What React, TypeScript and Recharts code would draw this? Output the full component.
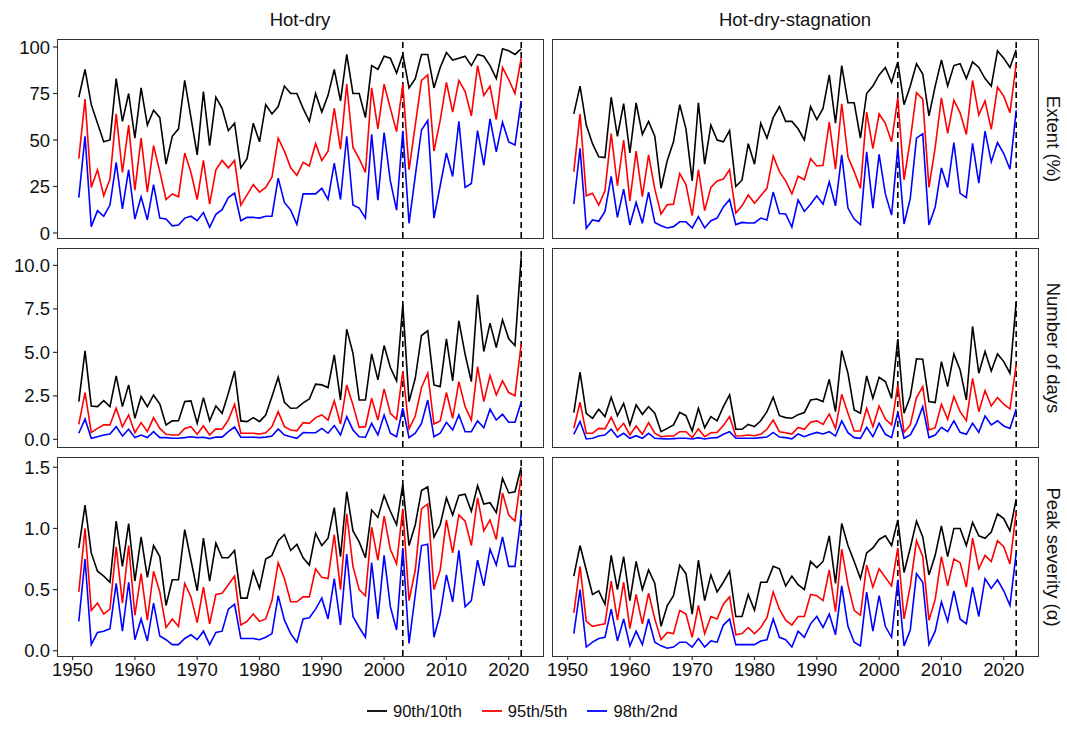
import React from 'react';
import { LineChart, Line, XAxis, YAxis, ReferenceLine } from 'recharts';

const YEARS = [1951,1952,1953,1954,1955,1956,1957,1958,1959,1960,1961,1962,1963,1964,1965,1966,1967,1968,1969,1970,1971,1972,1973,1974,1975,1976,1977,1978,1979,1980,1981,1982,1983,1984,1985,1986,1987,1988,1989,1990,1991,1992,1993,1994,1995,1996,1997,1998,1999,2000,2001,2002,2003,2004,2005,2006,2007,2008,2009,2010,2011,2012,2013,2014,2015,2016,2017,2018,2019,2020,2021,2022];

// Hot-dry, Extent (%)
const hdExt90 = [73,88,69,59,49,50,83,60,75,51,78,58,66,62,37,52,56,82,62,42,76,47,73,67,55,59,35,40,59,49,69,64,68,79,75,75,67,60,75,65,74,88,71,96,75,75,62,90,88,95,94,86,96,78,83,96,96,78,89,97,93,94,95,90,96,95,90,83,99,98,96,99];
const hdExt95 = [40,72,24.5,34,20,29,64,32.5,58,23,51,22,47,33,18,21,19.5,43,32.5,18,39,15.5,34,39,35,39,15,20.5,26,22,24.5,30,51,44,35,31,38,36,48,39,44,67,45,80,46,40,32.5,78,56,80,67,54.5,80,34,58,82,85,44,60.5,81,65,82,76,63,90,74,79,61,89,82.5,75,94];
const hdExt98 = [19,52,3.4,12,9,15,38,13,34,7.5,19.5,7,26,8,7.5,3.8,4.3,8,9,6.6,11,3,10,12.5,19,21.4,6.6,8.4,8.4,8,9,9,29.5,16.4,12.3,4.6,21,21,21,24,18,37.5,18,52,15,13.4,8,53,17.7,54,28,12.3,55,5.2,30.7,55.4,60.5,8,25.4,43,30.4,60,24.5,26.6,55,36.4,61.4,43.6,59.6,49,47.3,71];

// Hot-dry-stagnation, Extent (%)
const hdsExt90 = [64,79,58,48,41,40.5,73,52,69.5,43,70,53,60,52,24,39,49,69,56,28,70,37,58,50,49,55,25,28.5,48,37,59,51,62,68,60,60,56,50,68,61,67,85,59,90,70,70,51,75,79,85,89,81,92,69,79,91,85.5,63,79,93,79,90,91,83,92,89,83,79,98,94,89,98.5];
const hdsExt95 = [33,64,20,21.4,15,22.7,53.4,25.4,50,17.3,44,19.5,42,23.6,10.2,15.2,15.5,32,26,9.3,34,12,24.5,28,29,34,10.7,14.6,20.4,16,20,24,41.4,33,28,21,30.5,28.6,40,36,36.4,59.6,34.3,69.5,41,33,24,65,45.4,64,59,49,72.7,28.6,50,75.4,72,24.5,46,72.7,53.6,71.4,64.6,53,82,63.4,71,55.7,78.4,73.6,64.6,91];
const hdsExt98 = [15.5,45.5,2.5,7,6.3,11.6,30.4,8.4,23.6,4.3,16.4,5.2,22,5.7,3.9,2.7,3.4,6,6,2.7,8.8,2.7,6.6,8,14,18,4.5,5.7,5.4,5.4,8,7,22,10.5,10.2,3.2,17.8,11.6,15.5,20,15.5,27.5,14.6,42,13.4,7.5,4.5,43.6,13.4,42.3,21,9.6,46,4.8,18.6,51,53.4,4.3,14,35,24.5,48.6,21.3,19,48.2,26.8,54.8,38.2,48.6,42.7,34.3,66];

// Hot-dry, Number of days
const hdDays90 = [2.17,5.09,1.92,1.88,2.23,1.88,3.65,1.88,3.13,1.21,2.46,1.88,2.55,2.03,0.83,1.06,1.07,2.17,2.21,0.92,2.4,1.07,1.92,1.5,2.65,3.93,1.06,1.02,1.25,1.02,1.4,2.46,3.57,2.13,1.79,1.8,2.1,2.32,3.17,3.13,2.98,4.86,2.26,6.33,4.95,2.26,2.26,4.91,3.42,5.39,4.13,3.36,7.74,2.17,3.51,5.97,6.24,3.13,3.03,5.78,3.36,6.81,4.89,3.32,8.31,5.05,6.68,5.28,6.87,5.78,5.39,10.46];
const hdDays95 = [0.86,2.69,0.4,0.63,0.83,0.83,1.79,0.73,1.4,0.38,0.96,0.44,1.25,0.63,0.29,0.25,0.25,0.63,0.73,0.29,0.77,0.25,0.6,0.58,1.11,2.02,0.35,0.35,0.35,0.31,0.38,0.73,1.59,0.73,0.54,0.49,0.96,0.92,1.25,1.4,1.11,2.21,0.88,3.13,1.98,0.69,0.73,2.36,1.11,2.9,1.5,1.15,3.93,0.6,1.34,2.98,3.8,0.88,1.06,2.69,1.21,3.32,1.88,1.11,4.18,2.17,3.67,2.55,3.36,2.69,2.51,5.47];
const hdDays98 = [0.35,1.17,0.06,0.15,0.25,0.31,0.73,0.19,0.58,0.1,0.25,0.1,0.44,0.1,0.1,0.06,0.06,0.1,0.15,0.1,0.12,0.04,0.13,0.13,0.44,0.71,0.12,0.12,0.12,0.1,0.13,0.19,0.6,0.25,0.15,0.06,0.39,0.38,0.38,0.63,0.35,0.79,0.25,1.31,0.54,0.15,0.12,0.92,0.25,1.4,0.35,0.15,1.79,0.1,0.35,0.92,2.26,0.15,0.35,0.98,0.54,1.4,0.44,0.44,1.06,0.67,1.73,1.11,1.44,0.98,0.98,2.13];

// Hot-dry-stagnation, Number of days
const hdsDays90 = [1.54,3.86,1.5,1.21,1.73,1.31,2.42,1.36,2.07,0.83,1.98,1.44,1.88,1.5,0.44,0.63,0.83,1.55,1.36,0.48,1.79,0.67,1.31,1.06,1.88,2.55,0.58,0.58,0.86,0.73,1.07,1.59,2.42,1.36,1.25,1.21,1.42,1.54,2.26,2.32,2.17,3.45,1.59,5.1,3.8,1.69,1.5,3.65,2.36,3.57,3.32,2.36,5.76,1.5,2.46,4.63,4.61,2.17,2.11,4.47,3.03,4.91,3.99,2.26,6.49,3.8,5.05,3.93,4.91,4.47,3.8,7.89];
const hdsDays95 = [0.63,2.13,0.35,0.35,0.63,0.6,1.27,0.5,0.92,0.25,0.77,0.29,0.96,0.35,0.15,0.19,0.19,0.44,0.44,0.1,0.6,0.15,0.38,0.4,0.79,1.31,0.19,0.21,0.25,0.21,0.29,0.58,1.11,0.44,0.38,0.3,0.68,0.58,0.98,1.06,0.86,1.46,0.63,2.59,1.5,0.48,0.48,1.79,0.73,1.92,1.17,0.83,3.13,0.4,0.83,2.4,3.03,0.54,0.67,2.02,1.15,2.46,1.59,1.07,3.51,1.59,2.8,1.92,2.4,2.02,1.75,4.28];
const hdsDays98 = [0.29,1.02,0.02,0.06,0.19,0.25,0.58,0.12,0.35,0.06,0.21,0.06,0.35,0.06,0.04,0.02,0.04,0.06,0.06,0.02,0.1,0.02,0.08,0.1,0.29,0.44,0.06,0.06,0.06,0.06,0.1,0.13,0.4,0.13,0.1,0.03,0.31,0.15,0.29,0.4,0.31,0.44,0.19,1.06,0.38,0.1,0.06,0.69,0.15,0.92,0.29,0.1,1.54,0.06,0.25,0.92,1.88,0.1,0.25,0.69,0.44,1.06,0.4,0.29,0.92,0.4,1.34,0.83,1.07,0.77,0.63,1.75];

// Hot-dry, Peak severity
const hdSev90 = [0.84,1.19,0.8,0.65,0.61,0.56,1.06,0.69,1.04,0.57,0.93,0.6,0.86,0.77,0.37,0.58,0.58,0.99,0.74,0.49,0.92,0.57,0.88,0.76,0.76,0.82,0.43,0.43,0.65,0.51,0.75,0.78,0.9,0.95,0.82,0.87,0.76,0.7,0.96,0.86,0.92,1.17,0.77,1.3,0.98,0.89,0.76,1.15,1.09,1.27,1.14,1.03,1.36,0.86,1.03,1.31,1.34,0.93,1.03,1.25,1.11,1.27,1.28,1.14,1.35,1.2,1.21,1.13,1.41,1.29,1.3,1.5];
const hdSev95 = [0.48,1.0,0.33,0.39,0.3,0.34,0.85,0.39,0.86,0.29,0.63,0.25,0.65,0.48,0.19,0.26,0.2,0.55,0.44,0.23,0.52,0.22,0.46,0.47,0.54,0.61,0.21,0.24,0.3,0.24,0.26,0.41,0.72,0.59,0.4,0.4,0.44,0.44,0.67,0.6,0.59,0.95,0.5,1.12,0.69,0.5,0.45,1.01,0.74,1.1,0.83,0.71,1.16,0.41,0.66,1.16,1.2,0.5,0.66,1.07,0.8,1.11,1.06,0.86,1.25,0.98,1.07,0.91,1.29,1.11,1.06,1.43];
const hdSev98 = [0.24,0.75,0.05,0.15,0.16,0.18,0.55,0.16,0.56,0.09,0.26,0.08,0.39,0.12,0.09,0.05,0.05,0.1,0.13,0.09,0.16,0.05,0.15,0.16,0.34,0.38,0.1,0.1,0.1,0.09,0.11,0.14,0.45,0.25,0.14,0.07,0.26,0.27,0.34,0.43,0.26,0.59,0.21,0.79,0.28,0.19,0.11,0.72,0.26,0.78,0.36,0.17,0.84,0.06,0.46,0.86,0.87,0.11,0.3,0.62,0.4,0.82,0.36,0.41,0.74,0.53,0.83,0.7,0.93,0.69,0.69,1.11];

// Hot-dry-stagnation, Peak severity
const hdsSev90 = [0.61,0.86,0.66,0.46,0.49,0.38,0.78,0.5,0.77,0.41,0.73,0.5,0.66,0.55,0.2,0.37,0.45,0.7,0.63,0.3,0.74,0.41,0.62,0.48,0.56,0.65,0.28,0.28,0.46,0.33,0.56,0.56,0.69,0.67,0.53,0.61,0.54,0.5,0.73,0.68,0.73,0.94,0.55,1.04,0.86,0.73,0.59,0.8,0.84,0.91,0.94,0.86,1.07,0.64,0.84,1.06,0.93,0.62,0.78,1.02,0.77,1.0,1.0,0.86,1.05,0.94,0.92,0.97,1.12,1.08,0.98,1.24];
const hdsSev95 = [0.31,0.69,0.24,0.2,0.21,0.22,0.57,0.25,0.56,0.18,0.46,0.22,0.47,0.26,0.09,0.15,0.14,0.33,0.3,0.11,0.37,0.14,0.28,0.26,0.38,0.44,0.13,0.14,0.19,0.14,0.19,0.27,0.48,0.34,0.25,0.21,0.28,0.28,0.46,0.45,0.41,0.66,0.32,0.83,0.54,0.33,0.29,0.7,0.52,0.67,0.6,0.53,0.84,0.26,0.53,0.9,0.77,0.25,0.42,0.77,0.53,0.75,0.72,0.52,0.92,0.67,0.78,0.73,0.9,0.85,0.71,1.14];
const hdsSev98 = [0.14,0.5,0.03,0.07,0.1,0.11,0.34,0.08,0.26,0.04,0.16,0.05,0.26,0.07,0.04,0.02,0.03,0.07,0.07,0.03,0.1,0.03,0.08,0.07,0.21,0.26,0.05,0.05,0.05,0.05,0.08,0.09,0.26,0.11,0.09,0.03,0.16,0.11,0.22,0.28,0.19,0.3,0.13,0.53,0.2,0.07,0.04,0.48,0.16,0.45,0.2,0.11,0.58,0.04,0.17,0.63,0.56,0.05,0.16,0.4,0.24,0.49,0.26,0.22,0.52,0.28,0.59,0.51,0.58,0.49,0.37,0.8];

const COLUMN_LABELS = ['Hot-dry', 'Hot-dry-stagnation'];
const ROW_LABELS = ['Extent (%)', 'Number of days', 'Peak severity (\u03B1)'];
const SERIES_NAMES = ['90th/10th', '95th/5th', '98th/2nd'];
const SERIES_COLORS = ['#000000', '#FF0000', '#0000FF'];
const X_TICKS = [1950, 1960, 1970, 1980, 1990, 2000, 2010, 2020];
const EVENT_YEARS = [2003, 2022];
const Y_TICKS = [[0, 25, 50, 75, 100], [0, 2.5, 5, 7.5, 10], [0, 0.5, 1, 1.5]];
const Y_DOMAINS: [number, number][] = [[-2.7, 104.3], [-0.44, 11.0], [-0.043, 1.584]];
const X_DOMAIN: [number, number] = [1947.5, 2025.5];

const FONT = '"Liberation Sans", Arial, Helvetica, sans-serif';
const PW = 486;
const PH = 199;
const COL_LEFT = [57, 552];
const ROW_TOP = [39, 248, 457];
const Y_AXIS_W = 50;
const X_AXIS_H = 32;
const PAD = 14;
const TEXT_SIZE = 18.5;

const build = (a: number[], b: number[], c: number[]) =>
  YEARS.map((year, i) => ({ year, s90: a[i], s95: b[i], s98: c[i] }));

const PANELS = [
  [build(hdExt90, hdExt95, hdExt98), build(hdsExt90, hdsExt95, hdsExt98)],
  [build(hdDays90, hdDays95, hdDays98), build(hdsDays90, hdsDays95, hdsDays98)],
  [build(hdSev90, hdSev95, hdSev98), build(hdsSev90, hdsSev95, hdsSev98)],
];

const fmtRow = (r: number) => (v: number) => (r === 0 ? String(v) : v.toFixed(1));

function Panel({ row, col }: { row: number; col: number }) {
  const showY = col === 0;
  const showX = row === 2;
  const yW = showY ? Y_AXIS_W : 0;
  const xH = showX ? X_AXIS_H : 0;
  const left = COL_LEFT[col];
  const top = ROW_TOP[row];
  const tickStyle = { fontSize: TEXT_SIZE, fill: '#111', fontFamily: FONT };
  return (
    <>
      <div style={{ position: 'absolute', left: left - yW - PAD, top: top - PAD }}>
        <LineChart
          width={PW + yW + 2 * PAD}
          height={PH + xH + 2 * PAD}
          data={PANELS[row][col]}
          margin={{ top: PAD, right: PAD, bottom: PAD, left: PAD }}
        >
          <XAxis
            type="number"
            dataKey="year"
            domain={X_DOMAIN}
            ticks={X_TICKS}
            interval={0}
            allowDataOverflow
            hide={!showX}
            height={xH}
            axisLine={false}
            tickLine={{ stroke: '#333', strokeWidth: 1.2 }}
            tickSize={4}
            tickMargin={3}
            tick={tickStyle}
          />
          <YAxis
            type="number"
            domain={Y_DOMAINS[row]}
            ticks={Y_TICKS[row]}
            interval={0}
            allowDataOverflow
            hide={!showY}
            width={yW}
            axisLine={false}
            tickLine={{ stroke: '#333', strokeWidth: 1.2 }}
            tickSize={4}
            tickMargin={3}
            tick={tickStyle}
            tickFormatter={fmtRow(row)}
          />
          {EVENT_YEARS.map((y) => (
            <ReferenceLine key={y} x={y} stroke="#000" strokeWidth={1.6} strokeDasharray="6 4" />
          ))}
          <Line type="linear" dataKey="s90" name={SERIES_NAMES[0]} stroke={SERIES_COLORS[0]} strokeWidth={1.6} dot={false} activeDot={false} isAnimationActive={false} />
          <Line type="linear" dataKey="s95" name={SERIES_NAMES[1]} stroke={SERIES_COLORS[1]} strokeWidth={1.6} dot={false} activeDot={false} isAnimationActive={false} />
          <Line type="linear" dataKey="s98" name={SERIES_NAMES[2]} stroke={SERIES_COLORS[2]} strokeWidth={1.6} dot={false} activeDot={false} isAnimationActive={false} />
        </LineChart>
      </div>
      <div
        style={{
          position: 'absolute',
          left: left - 0.5,
          top: top - 0.5,
          width: PW + 1,
          height: PH + 1,
          border: '1.3px solid #333',
          boxSizing: 'border-box',
          pointerEvents: 'none',
        }}
      />
    </>
  );
}

export default function App() {
  return (
    <div style={{ position: 'absolute', left: 0, top: 0, width: 1067, height: 734, background: '#fff', fontFamily: FONT, color: '#111', overflow: 'hidden' }}>
      {COLUMN_LABELS.map((lab, c) => (
        <div key={lab} style={{ position: 'absolute', left: COL_LEFT[c], top: 8, width: PW, textAlign: 'center', fontSize: TEXT_SIZE, lineHeight: '24px' }}>
          {lab}
        </div>
      ))}
      {[0, 1, 2].map((r) => [0, 1].map((c) => <Panel key={`${r}-${c}`} row={r} col={c} />))}
      {ROW_LABELS.map((lab, r) => (
        <div
          key={lab}
          style={{
            position: 'absolute',
            left: 1053,
            top: ROW_TOP[r] + PH / 2,
            transform: 'translate(-50%, -50%) rotate(90deg)',
            whiteSpace: 'nowrap',
            fontSize: TEXT_SIZE,
            lineHeight: '22px',
          }}
        >
          {lab}
        </div>
      ))}
      <div style={{ position: 'absolute', left: 366, top: 700, display: 'flex', alignItems: 'center', gap: 19 }}>
        {SERIES_NAMES.map((n, i) => (
          <div key={n} style={{ display: 'flex', alignItems: 'center', gap: 5 }}>
            <svg width={22} height={22}>
              <line x1={1} y1={11} x2={21} y2={11} stroke={SERIES_COLORS[i]} strokeWidth={1.8} />
            </svg>
            <span style={{ fontSize: 16.5, lineHeight: '22px' }}>{n}</span>
          </div>
        ))}
      </div>
    </div>
  );
}
